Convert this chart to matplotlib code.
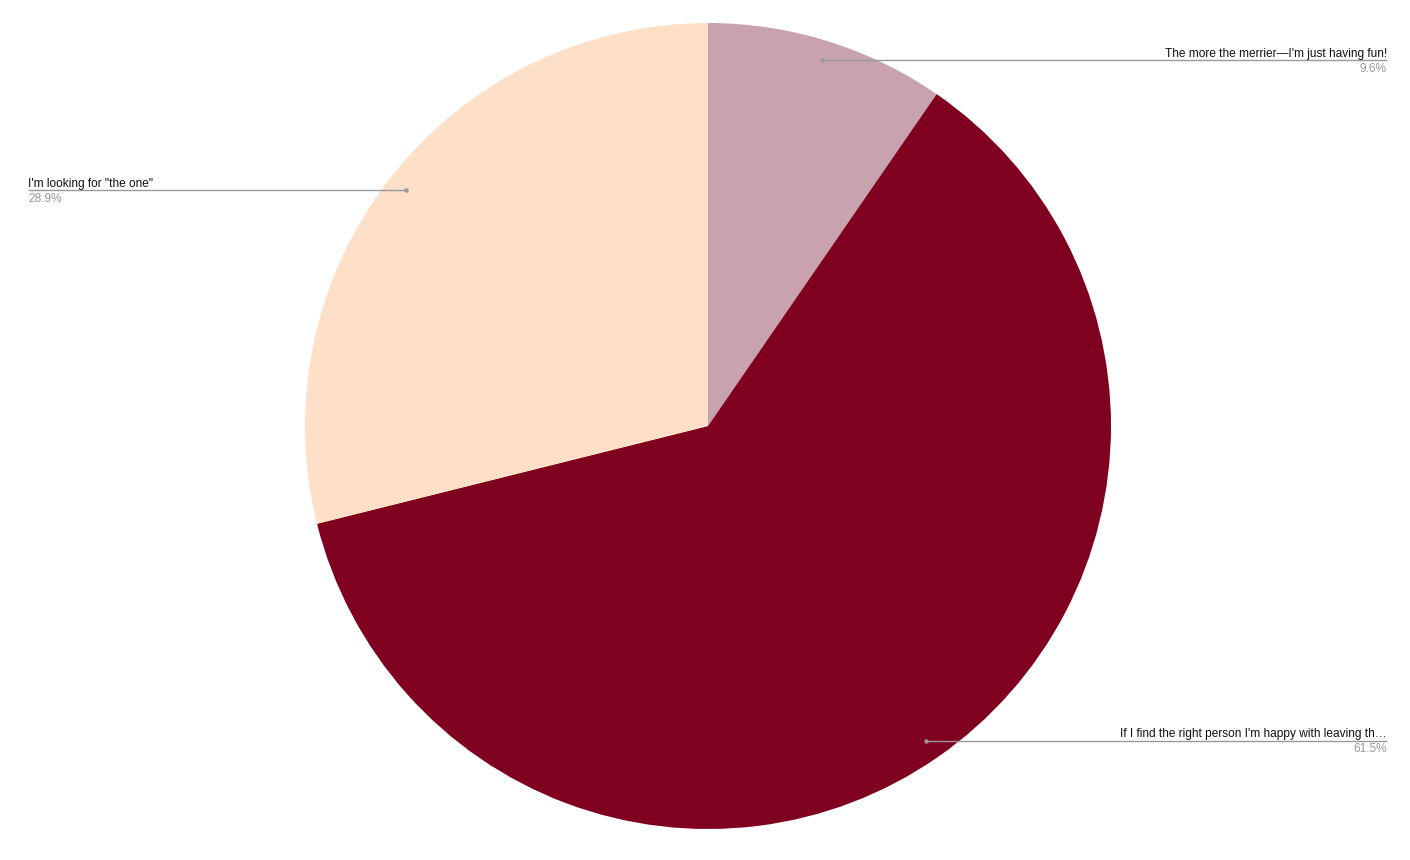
import numpy as np
import matplotlib
matplotlib.use("Agg")
import matplotlib.pyplot as plt

labels = ["The more the merrier\u2014I'm just having fun!",
          "If I find the right person I'm happy with leaving th\u2026",
          "I'm looking for \"the one\""]
values = [9.6, 61.5, 28.9]
pct_labels = ["9.6%", "61.5%", "28.9%"]
colors = ["#c8a2ae", "#800020", "#fde0c7"]

W, H = 1410, 860
fig = plt.figure(figsize=(W / 100, H / 100), dpi=100)
ax = fig.add_axes([0, 0, 1, 1])

cx, cy, R = 708, H - 426, 403
wedges, _ = ax.pie(values, colors=colors, startangle=90, counterclock=False,
                   center=(cx, cy), radius=R, frame=True,
                   wedgeprops=dict(linewidth=0))
ax.set_xlim(0, W)
ax.set_ylim(0, H)
ax.axis("off")

font = "Liberation Sans"
for w, lab, pct in zip(wedges, labels, pct_labels):
    mid = np.deg2rad((w.theta1 + w.theta2) / 2)
    px = cx + 0.95 * R * np.cos(mid)
    py = cy + 0.95 * R * np.sin(mid)
    right = np.cos(mid) >= 0
    xend = 1387 if right else 28
    ax.plot([px, xend], [py, py], color="#999999", lw=1.0, solid_capstyle="butt")
    ax.plot([px], [py], marker="o", ms=2.2, color="#999999")
    ha = "right" if right else "left"
    ax.text(xend, py + 0.5, lab, ha=ha, va="bottom", fontsize=8.6, family=font,
            color="#111111")
    ax.text(xend, py - 2.5, pct, ha=ha, va="top", fontsize=8.6, family=font,
            color="#999999")

fig.savefig("out.png", dpi=100)
